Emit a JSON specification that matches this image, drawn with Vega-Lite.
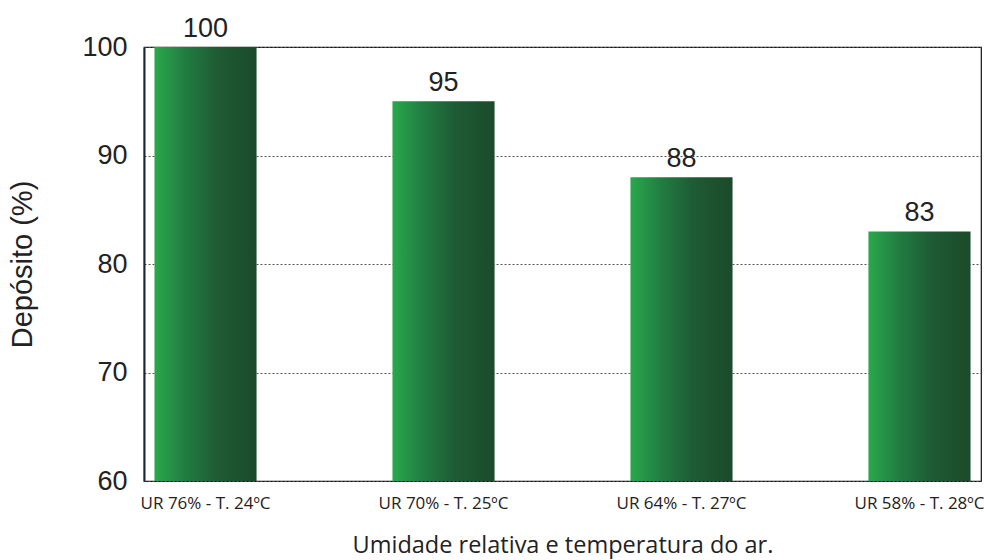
{
  "$schema": "https://vega.github.io/schema/vega-lite/v6.json",
  "width": 837,
  "height": 434,
  "autosize": "none",
  "padding": {"left": 144, "top": 47, "right": 3, "bottom": 79},
  "background": "white",
  "config": {
    "view": {"stroke": "#111111", "strokeWidth": 1.2},
    "font": "Liberation Sans"
  },
  "data": {
    "values": [
      {"cat": "UR 76% - T. 24ºC", "value": 100},
      {"cat": "UR 70% - T. 25ºC", "value": 95},
      {"cat": "UR 64% - T. 27ºC", "value": 88},
      {"cat": "UR 58% - T. 28ºC", "value": 83}
    ]
  },
  "encoding": {
    "x": {
      "field": "cat",
      "type": "nominal",
      "sort": null,
      "scale": {"paddingInner": 0.571, "paddingOuter": 0.044},
      "axis": {
        "title": "Umidade relativa e temperatura do ar.",
        "titleFont": "Open Sans",
        "titleFontSize": 23.5,
        "titleFontWeight": "normal",
        "titleColor": "#222222",
        "titlePadding": 22,
        "labelAngle": 0,
        "labelFont": "Open Sans",
        "labelFontSize": 17,
        "labelColor": "#222222",
        "labelPadding": 14,
        "labelOverlap": false,
        "ticks": false,
        "domain": false,
        "grid": false
      }
    },
    "y": {
      "field": "value",
      "type": "quantitative",
      "scale": {"domain": [60, 100], "nice": false, "zero": false},
      "axis": {
        "title": "Depósito (%)",
        "titleFont": "Liberation Sans",
        "titleFontSize": 29,
        "titleFontWeight": "normal",
        "titleColor": "#222222",
        "titlePadding": 44,
        "values": [60, 70, 80, 90, 100],
        "labelFontSize": 27,
        "labelColor": "#222222",
        "labelPadding": 17,
        "ticks": false,
        "domain": true,
        "domainColor": "#1a2633",
        "domainWidth": 2,
        "grid": true,
        "gridColor": "#555555",
        "gridDash": [2, 2],
        "gridWidth": 1
      }
    }
  },
  "layer": [
    {
      "mark": {
        "type": "bar",
        "clip": true,
        "color": {
          "gradient": "linear",
          "x1": 0, "y1": 0, "x2": 1, "y2": 0,
          "stops": [
            {"offset": 0, "color": "#29a84c"},
            {"offset": 0.3, "color": "#217d41"},
            {"offset": 0.6, "color": "#1f5c35"},
            {"offset": 1, "color": "#1b4a2a"}
          ]
        }
      }
    },
    {
      "mark": {"type": "text", "dy": -10, "fontSize": 27, "color": "#222222", "baseline": "alphabetic"},
      "encoding": {"text": {"field": "value", "type": "quantitative"}}
    }
  ]
}
